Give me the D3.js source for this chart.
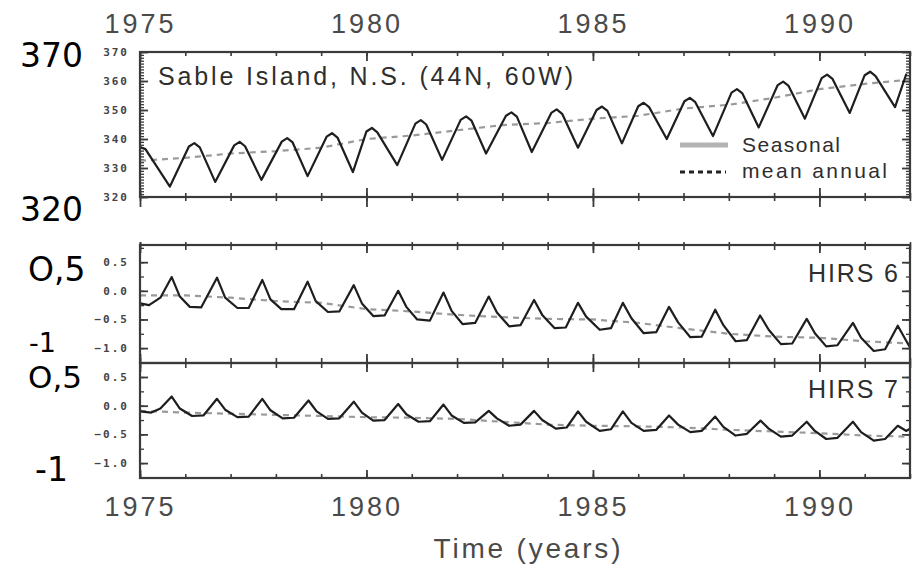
<!DOCTYPE html>
<html>
<head>
<meta charset="utf-8">
<script src="https://cdn.jsdelivr.net/npm/d3@7"></script>
<style>
  body { margin: 0; background: #fff; }
  svg { display: block; }
</style>
</head>
<body>
<svg id="chart" width="916" height="567"></svg>
<script>
// values
const yearLabels = [1975, 1980, 1985, 1990];
const meanYears = [1975, 1976, 1977, 1978, 1979, 1980, 1981, 1982, 1983, 1984,
                   1985, 1986, 1987, 1988, 1989, 1990, 1991, 1992];

// Sable Island CO2 (ppm): [time, value]
const co2Seasonal = [
  [1975.00, 337.2], [1975.12, 336.5], [1975.66, 323.6],
  [1976.08, 337.4], [1976.20, 338.6], [1976.32, 337.1], [1976.66, 325.2],
  [1977.08, 337.8], [1977.20, 339.0], [1977.32, 337.5], [1977.68, 325.9],
  [1978.13, 339.1], [1978.25, 340.3], [1978.37, 338.8], [1978.70, 327.2],
  [1979.12, 340.8], [1979.24, 342.0], [1979.36, 340.5], [1979.70, 328.6],
  [1980.00, 342.6], [1980.12, 343.8], [1980.24, 342.3], [1980.68, 331.0],
  [1981.08, 345.3], [1981.20, 346.5], [1981.32, 345.0], [1981.67, 332.8],
  [1982.08, 346.6], [1982.20, 347.8], [1982.32, 346.3], [1982.64, 335.0],
  [1983.08, 348.0], [1983.20, 349.2], [1983.32, 347.7], [1983.65, 335.5],
  [1984.08, 349.0], [1984.20, 350.2], [1984.32, 348.7], [1984.67, 337.0],
  [1985.08, 350.0], [1985.20, 351.2], [1985.32, 349.7], [1985.64, 338.5],
  [1986.00, 351.3], [1986.12, 352.5], [1986.24, 351.0], [1986.63, 340.0],
  [1987.02, 353.0], [1987.14, 354.2], [1987.26, 352.7], [1987.65, 341.0],
  [1988.06, 356.0], [1988.18, 357.2], [1988.30, 355.7], [1988.66, 344.0],
  [1989.08, 358.6], [1989.20, 359.8], [1989.32, 358.3], [1989.68, 347.0],
  [1990.05, 361.0], [1990.17, 362.2], [1990.29, 360.7], [1990.67, 349.0],
  [1991.00, 362.0], [1991.12, 363.2], [1991.24, 361.7], [1991.67, 351.0],
  [1991.92, 362.5]
];
const co2Mean = [332.5, 333.5, 335.0, 335.8, 337.0, 340.0, 341.2, 343.0, 344.8,
                 345.5, 347.0, 348.0, 350.5, 351.8, 354.2, 357.2, 359.0, 360.5];

// HIRS channel 6
const hirs6Seasonal = [
  [1975.00, -0.22], [1975.20, -0.25], [1975.45, -0.12], [1975.70, 0.24],
  [1975.88, -0.10], [1976.10, -0.28], [1976.35, -0.29], [1976.70, 0.23],
  [1976.88, -0.12], [1977.15, -0.30], [1977.40, -0.30], [1977.70, 0.19],
  [1977.88, -0.15], [1978.12, -0.32], [1978.40, -0.32], [1978.70, 0.16],
  [1978.88, -0.18], [1979.15, -0.37], [1979.40, -0.36], [1979.72, 0.10],
  [1979.90, -0.22], [1980.15, -0.44], [1980.40, -0.43], [1980.70, 0.00],
  [1980.88, -0.28], [1981.12, -0.50], [1981.40, -0.52], [1981.70, -0.03],
  [1981.88, -0.35], [1982.12, -0.58], [1982.40, -0.56], [1982.70, -0.10],
  [1982.88, -0.38], [1983.15, -0.62], [1983.40, -0.60], [1983.70, -0.16],
  [1983.88, -0.42], [1984.15, -0.65], [1984.40, -0.64], [1984.67, -0.21],
  [1984.85, -0.45], [1985.15, -0.68], [1985.40, -0.65], [1985.66, -0.21],
  [1985.85, -0.48], [1986.12, -0.74], [1986.40, -0.72], [1986.68, -0.28],
  [1986.88, -0.55], [1987.15, -0.81], [1987.40, -0.80], [1987.70, -0.33],
  [1987.88, -0.60], [1988.15, -0.88], [1988.40, -0.86], [1988.69, -0.43],
  [1988.88, -0.68], [1989.15, -0.93], [1989.40, -0.92], [1989.72, -0.49],
  [1989.90, -0.74], [1990.15, -0.97], [1990.40, -0.95], [1990.74, -0.56],
  [1990.92, -0.82], [1991.20, -1.05], [1991.45, -1.02], [1991.73, -0.61],
  [1991.90, -0.85], [1992.00, -0.99]
];
const hirs6Mean = [-0.08, -0.08, -0.12, -0.18, -0.21, -0.32, -0.36, -0.42, -0.46,
                   -0.49, -0.50, -0.56, -0.66, -0.75, -0.80, -0.82, -0.88, -0.92];

// HIRS channel 7
const hirs7Seasonal = [
  [1975.00, -0.10], [1975.25, -0.12], [1975.45, -0.05], [1975.70, 0.16],
  [1975.88, -0.05], [1976.15, -0.18], [1976.40, -0.17], [1976.70, 0.12],
  [1976.88, -0.07], [1977.15, -0.20], [1977.40, -0.19], [1977.70, 0.12],
  [1977.88, -0.08], [1978.15, -0.22], [1978.40, -0.21], [1978.72, 0.09],
  [1978.90, -0.10], [1979.15, -0.23], [1979.40, -0.22], [1979.72, 0.07],
  [1979.90, -0.12], [1980.15, -0.26], [1980.40, -0.25], [1980.70, 0.03],
  [1980.88, -0.15], [1981.15, -0.28], [1981.40, -0.27], [1981.70, 0.02],
  [1981.88, -0.17], [1982.15, -0.30], [1982.40, -0.29], [1982.70, -0.09],
  [1982.88, -0.22], [1983.15, -0.35], [1983.40, -0.33], [1983.70, -0.09],
  [1983.88, -0.25], [1984.18, -0.40], [1984.42, -0.38], [1984.67, -0.10],
  [1984.85, -0.28], [1985.15, -0.44], [1985.40, -0.41], [1985.66, -0.10],
  [1985.85, -0.30], [1986.12, -0.44], [1986.40, -0.42], [1986.68, -0.17],
  [1986.88, -0.33], [1987.15, -0.46], [1987.40, -0.44], [1987.70, -0.19],
  [1987.88, -0.37], [1988.15, -0.52], [1988.40, -0.49], [1988.70, -0.26],
  [1988.88, -0.40], [1989.15, -0.54], [1989.40, -0.52], [1989.72, -0.28],
  [1989.90, -0.44], [1990.15, -0.58], [1990.40, -0.56], [1990.74, -0.28],
  [1990.92, -0.46], [1991.20, -0.61], [1991.45, -0.58], [1991.73, -0.35],
  [1991.92, -0.44], [1992.00, -0.40]
];
const hirs7Mean = [-0.09, -0.12, -0.14, -0.16, -0.18, -0.20, -0.21, -0.23, -0.28,
                   -0.33, -0.35, -0.36, -0.38, -0.42, -0.45, -0.48, -0.52, -0.54];

const co2Ticks = [370, 360, 350, 340, 330, 320];
const hirsTicks = [0.5, 0.0, -0.5, -1.0];

const svg = d3.select('#chart');
const frameColor = '#3a3a3a';

const x = d3.scaleLinear().domain([1975, 1992]).range([140, 910]);

const panels = [
  { id: 'co2', top: 52, bottom: 197,
    y: d3.scaleLinear().domain([320, 370]).range([197, 52]),
    seasonal: co2Seasonal, mean: co2Mean, ticks: co2Ticks,
    minor: d3.range(320, 371, 1), fmt: d3.format('d') },
  { id: 'h6', top: 245, bottom: 363,
    y: d3.scaleLinear().domain([-1.26, 0.8]).range([363, 245]),
    seasonal: hirs6Seasonal, mean: hirs6Mean, ticks: hirsTicks,
    minor: d3.range(-1.25, 0.8, 0.25), fmt: d3.format('.1f') },
  { id: 'h7', top: 363, bottom: 478,
    y: d3.scaleLinear().domain([-1.26, 0.744]).range([478, 363]),
    seasonal: hirs7Seasonal, mean: hirs7Mean, ticks: hirsTicks,
    minor: d3.range(-1.25, 0.75, 0.25), fmt: d3.format('.1f') }
];

const defs = svg.append('defs');

function noDomain(g) { g.select('.domain').remove(); }
function tickStyle(g, w) {
  g.selectAll('line').attr('stroke', frameColor).attr('stroke-width', w || 1.6);
}

// year ticks along a horizontal edge; up/down = tick lengths
function xTicks(yPos, up, down, majorUp, majorDown) {
  if (up) svg.append('g').attr('transform', `translate(0,${yPos})`)
    .call(d3.axisTop(x).tickValues(meanYears).tickSize(up).tickFormat(''))
    .call(noDomain).call(tickStyle);
  if (down) svg.append('g').attr('transform', `translate(0,${yPos})`)
    .call(d3.axisBottom(x).tickValues(meanYears).tickSize(down).tickFormat(''))
    .call(noDomain).call(tickStyle);
  if (majorUp) svg.append('g').attr('transform', `translate(0,${yPos})`)
    .call(d3.axisTop(x).tickValues(yearLabels).tickSize(majorUp).tickFormat(''))
    .call(noDomain).call(tickStyle, 1.8);
  if (majorDown) svg.append('g').attr('transform', `translate(0,${yPos})`)
    .call(d3.axisBottom(x).tickValues(yearLabels).tickSize(majorDown).tickFormat(''))
    .call(noDomain).call(tickStyle, 1.8);
}

panels.forEach(p => {
  // clip for curves
  defs.append('clipPath').attr('id', 'clip-' + p.id)
    .append('rect').attr('x', 140).attr('y', p.top)
    .attr('width', 770).attr('height', p.bottom - p.top);

  // inward ticks, left and right
  svg.append('g').attr('transform', 'translate(140,0)')
    .call(d3.axisRight(p.y).tickValues(p.minor).tickSize(4).tickFormat(''))
    .call(noDomain).call(tickStyle, 1.3);
  svg.append('g').attr('transform', 'translate(140,0)')
    .call(d3.axisRight(p.y).tickValues(p.ticks).tickSize(8).tickFormat(''))
    .call(noDomain).call(tickStyle, 1.8);
  svg.append('g').attr('transform', 'translate(910,0)')
    .call(d3.axisLeft(p.y).tickValues(p.minor).tickSize(4).tickFormat(''))
    .call(noDomain).call(tickStyle, 1.3);
  svg.append('g').attr('transform', 'translate(910,0)')
    .call(d3.axisLeft(p.y).tickValues(p.ticks).tickSize(8).tickFormat(''))
    .call(noDomain).call(tickStyle, 1.8);

  // small scanned tick labels
  const lab = svg.append('g').attr('transform', 'translate(140,0)')
    .call(d3.axisLeft(p.y).tickValues(p.ticks).tickSize(0).tickPadding(11).tickFormat(p.fmt))
    .call(noDomain);
  lab.selectAll('text')
    .style('font-family', '"DejaVu Sans Mono", monospace')
    .style('font-weight', 'bold')
    .style('font-size', '11px')
    .style('letter-spacing', '2px')
    .style('fill', '#444');

  // mean annual (dashed) and seasonal curve
  const line = d3.line().x(d => x(d[0])).y(d => p.y(d[1]));
  const g = svg.append('g').attr('clip-path', `url(#clip-${p.id})`);
  g.append('path')
    .datum(meanYears.map((yr, i) => [yr, p.mean[i]]))
    .attr('d', line)
    .attr('fill', 'none')
    .attr('stroke', '#9a9a9a')
    .attr('stroke-width', 2.2)
    .attr('stroke-dasharray', '6,5');
  g.append('path')
    .datum(p.seasonal)
    .attr('d', line)
    .attr('fill', 'none')
    .attr('stroke', '#1e1e1e')
    .attr('stroke-width', 2.2)
    .attr('stroke-linejoin', 'round');

  // frame
  svg.append('rect')
    .attr('x', 140).attr('y', p.top)
    .attr('width', 770).attr('height', p.bottom - p.top)
    .attr('fill', 'none')
    .attr('stroke', frameColor)
    .attr('stroke-width', 2.2);
});

// time ticks on the horizontal edges
xTicks(52, 0, 4, 0, 9);
xTicks(197, 4, 4, 9, 10);
xTicks(245, 3, 5, 3, 8);
xTicks(363, 5, 5, 9, 9);
xTicks(478, 4, 0, 8, 0);

// year labels, top and bottom
function yearText(sel) {
  sel.selectAll('text')
    .style('font-family', '"Liberation Sans", Arial, sans-serif')
    .style('font-size', '27px')
    .style('letter-spacing', '3px')
    .style('fill', '#4a4a4a');
}
svg.append('g').attr('transform', 'translate(0,52)')
  .call(d3.axisTop(x).tickValues(yearLabels).tickSize(0).tickPadding(19).tickFormat(d3.format('d')))
  .call(noDomain).call(yearText);
svg.append('g').attr('transform', 'translate(0,478)')
  .call(d3.axisBottom(x).tickValues(yearLabels).tickSize(0).tickPadding(19).tickFormat(d3.format('d')))
  .call(noDomain).call(yearText);

svg.append('text')
  .attr('x', 527).attr('y', 558)
  .attr('text-anchor', 'middle')
  .attr('textLength', 187).attr('lengthAdjust', 'spacing')
  .style('font-family', '"Liberation Sans", Arial, sans-serif')
  .style('font-size', '28px')
  .style('fill', '#4a4a4a')
  .text('Time (years)');

// panel captions
function caption(txt, x0, y0, size, len) {
  svg.append('text')
    .attr('x', x0).attr('y', y0)
    .attr('textLength', len).attr('lengthAdjust', 'spacing')
    .style('font-family', '"Liberation Sans", Arial, sans-serif')
    .style('font-size', size + 'px')
    .style('fill', '#2e2e2e')
    .text(txt);
}
caption('Sable Island, N.S. (44N, 60W)', 158, 85, 25, 415);
caption('HIRS 6', 808, 282, 25, 90);
caption('HIRS 7', 808, 398, 25, 90);

// legend
const leg = svg.append('g');
leg.append('line').attr('x1', 680).attr('x2', 728).attr('y1', 145).attr('y2', 145)
  .attr('stroke', '#b4b4b4').attr('stroke-width', 5);
leg.append('line').attr('x1', 680).attr('x2', 726).attr('y1', 172).attr('y2', 172)
  .attr('stroke', '#222').attr('stroke-width', 3).attr('stroke-dasharray', '5,4');
caption('Seasonal', 742, 152, 21, 98);
caption('mean annual', 742, 178, 21, 145);

// large overlaid axis values
const bigLabels = [
  { t: '370', x: 20, y: 67, s: 33 },
  { t: '320', x: 20, y: 221, s: 33 },
  { t: 'O,5', x: 28, y: 281, s: 33 },
  { t: '-1', x: 29, y: 352, s: 27 },
  { t: 'O,5', x: 28, y: 388, s: 31 },
  { t: '-1', x: 35, y: 481, s: 33 }
];
svg.selectAll('.big').data(bigLabels).join('text')
  .attr('class', 'big')
  .attr('x', d => d.x).attr('y', d => d.y)
  .style('font-family', '"DejaVu Sans", sans-serif')
  .style('font-size', d => d.s + 'px')
  .style('fill', '#000')
  .text(d => d.t);
</script>
</body>
</html>
